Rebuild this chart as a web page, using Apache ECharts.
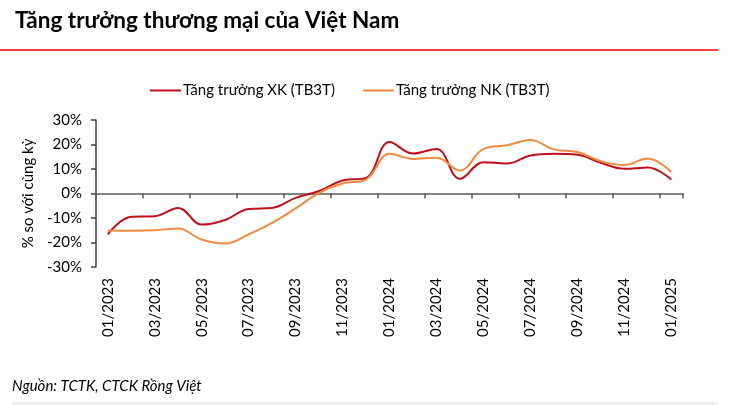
<!DOCTYPE html>
<html>
<head>
<meta charset="utf-8">
<script src="https://cdn.jsdelivr.net/npm/echarts@6/dist/echarts.min.js"></script>
<style>
html,body{margin:0;padding:0;background:#fff;}
#c{width:733px;height:405px;}
</style>
</head>
<body>
<div id="c"></div>
<script>
const categories = ["01/2023","02/2023","03/2023","04/2023","05/2023","06/2023","07/2023","08/2023","09/2023","10/2023","11/2023","12/2023",
"01/2024","02/2024","03/2024","04/2024","05/2024","06/2024","07/2024","08/2024","09/2024","10/2024","11/2024","12/2024","01/2025"];
const exportGrowth = [-16.7,-9.5,-9.3,-5.9,-12.7,-10.8,-6.3,-5.9,-1.8,1.0,5.3,6.4,21.0,16.3,18.2,6.0,12.8,12.2,15.5,16.2,15.8,12.5,10.1,10.6,5.7];
const importGrowth = [-15.1,-15.2,-15.0,-14.3,-18.8,-20.4,-16.7,-12.0,-6.1,0.3,4.1,5.7,16.2,14.1,14.6,9.4,18.2,19.7,21.8,18.0,16.9,13.2,11.6,14.3,8.8];
const seriesNames = ["Tăng trưởng XK (TB3T)", "Tăng trưởng NK (TB3T)"];
const yTicks = {min: -30, max: 30, interval: 10};

const FONT = 'Lato';
const chart = echarts.init(document.getElementById('c'));
chart.setOption({
  backgroundColor: '#fff',
  animation: false,
  textStyle: {fontFamily: FONT},
  title: {
    text: 'Tăng trưởng thương mại của Việt Nam',
    left: 10, top: 4,
    textStyle: {fontFamily: FONT, fontWeight: 'bold', fontSize: 22.5, color: '#000'}
  },
  graphic: [
    {type: 'line', shape: {x1: 0, y1: 50, x2: 718, y2: 50}, style: {stroke: '#ff0000', lineWidth: 1.5}},
    {type: 'text', left: 12, top: 379, style: {text: 'Nguồn: TCTK, CTCK Rồng Việt', font: 'italic 15px Lato', fill: '#000'}},
    {type: 'rect', shape: {x: 12, y: 402, width: 706, height: 3}, style: {fill: '#f0f0f0'}}
  ],
  legend: {
    left: 145, top: 78,
    icon: 'rect', itemWidth: 31, itemHeight: 2, itemGap: 28,
    textStyle: {fontFamily: FONT, fontSize: 15, color: '#000', padding: [0,0,0,-3]},
    data: seriesNames
  },
  grid: {left: 96, right: 50, top: 120, bottom: 138, containLabel: false},
  xAxis: [
    {
      type: 'category', data: categories, boundaryGap: true,
      axisLine: {onZero: true, lineStyle: {color: '#595959', width: 1.5}},
      axisTick: {show: true, interval: 1, length: 5, lineStyle: {color: '#595959', width: 1.5}},
      axisLabel: {show: false}
    },
    {
      type: 'category', data: categories, boundaryGap: true, position: 'bottom',
      axisLine: {show: false}, axisTick: {show: false},
      axisLabel: {interval: 1, rotate: 90, margin: 11, fontFamily: FONT, fontSize: 15, color: '#000'}
    }
  ],
  yAxis: {
    type: 'value', min: yTicks.min, max: yTicks.max, interval: yTicks.interval,
    name: '% so với cùng kỳ', nameLocation: 'middle', nameGap: 56, nameRotate: 90,
    nameTextStyle: {fontFamily: FONT, fontSize: 15, color: '#000'},
    axisLine: {show: true, lineStyle: {color: '#404040', width: 1.5}},
    axisTick: {show: true, length: 5, lineStyle: {color: '#404040', width: 1.5}},
    axisLabel: {formatter: '{value}%', fontFamily: FONT, fontSize: 15, color: '#000', margin: 14},
    splitLine: {show: false}
  },
  series: [
    {name: seriesNames[0], type: 'line', data: exportGrowth, xAxisIndex: 0, smooth: 0.4,
     showSymbol: false, lineStyle: {color: '#c0101a', width: 2}, itemStyle: {color: '#c0101a'}},
    {name: seriesNames[1], type: 'line', data: importGrowth, xAxisIndex: 0, smooth: 0.4,
     showSymbol: false, lineStyle: {color: '#f08a3c', width: 2}, itemStyle: {color: '#f08a3c'}}
  ]
});
</script>
</body>
</html>
